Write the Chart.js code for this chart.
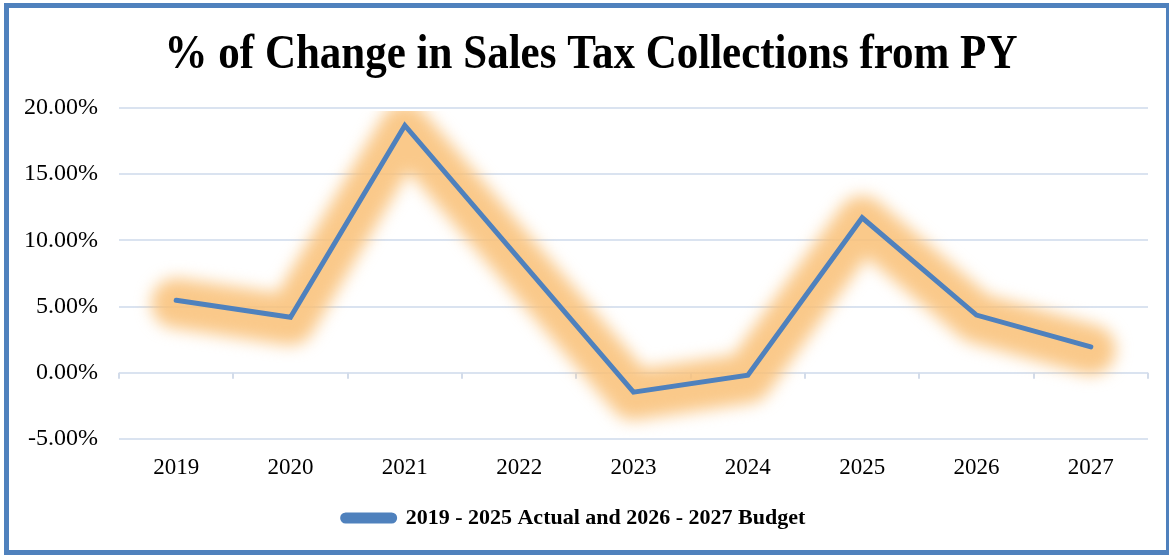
<!DOCTYPE html>
<html>
<head>
<meta charset="utf-8">
<title>Sales Tax Collections</title>
<script src="https://cdn.jsdelivr.net/npm/chart.js@4/dist/chart.umd.min.js"></script>
<style>
  html, body { margin: 0; padding: 0; background: #fff; }
  #wrap { position: relative; width: 1169px; height: 555px; overflow: hidden; }
  #frame {
    position: absolute; left: 4px; top: 3px; width: 1167px; height: 552px;
    box-sizing: border-box; border: 5px solid #4f81bd; pointer-events: none;
  }
  canvas { position: absolute; left: 0; top: 0; }
</style>
</head>
<body>
<div id="wrap">
  <canvas id="salesTax" width="1169" height="555"></canvas>
  <div id="frame"></div>
</div>
<script>
const years = ["2019", "2020", "2021", "2022", "2023", "2024", "2025", "2026", "2027"];
const pctChange = [5.48, 4.2, 18.68, 8.6, -1.46, -0.18, 11.71, 4.36, 1.96];
const seriesName = "2019 - 2025 Actual and 2026 - 2027 Budget";
const chartTitle = "% of Change in Sales Tax Collections from PY";
const yTicks = { min: -5, max: 20, step: 5 };

const serif = "'Liberation Serif', 'Times New Roman', serif";
Chart.defaults.font.family = serif;
Chart.defaults.color = "#000";

// soft orange halo behind the line
const glowPlugin = {
  id: "glow",
  beforeDatasetDraw(chart, args) {
    if (args.index !== 0) return;
    const ctx = chart.ctx;
    ctx.save();
    ctx.filter = "blur(8px)";
    ctx.translate(0, 3);
  },
  afterDatasetDraw(chart, args) {
    if (args.index !== 0) return;
    chart.ctx.restore();
  }
};

// small tick marks along the zero line between categories
const zeroTicks = {
  id: "zeroTicks",
  beforeDatasetsDraw(chart) {
    const { ctx, scales: { x, y } } = chart;
    const y0 = y.getPixelForValue(0);
    ctx.save();
    ctx.strokeStyle = "#d3dcea";
    ctx.lineWidth = 2;
    ctx.beginPath();
    for (let i = 0; i <= years.length; i++) {
      const px = Math.round(x.getPixelForValue(i - 0.5));
      ctx.moveTo(px, y0);
      ctx.lineTo(px, y0 + 6);
    }
    ctx.stroke();
    ctx.restore();
  }
};

// heading, a little taller than the stock serif
const headingPlugin = {
  id: "heading",
  afterDraw(chart) {
    const ctx = chart.ctx;
    ctx.save();
    ctx.font = "bold 43px " + serif;
    ctx.fillStyle = "#000";
    ctx.textAlign = "center";
    ctx.textBaseline = "alphabetic";
    ctx.translate(591, 68);
    ctx.scale(1, 1.12);
    ctx.fillText(chartTitle, 0, 0);
    ctx.restore();
  }
};

new Chart(document.getElementById("salesTax"), {
  type: "line",
  data: {
    labels: years,
    datasets: [
      {
        label: "glow",
        data: pctChange,
        order: 2,
        borderColor: "rgba(249, 192, 118, 0.85)",
        borderWidth: 50,
        borderJoinStyle: "round",
        borderCapStyle: "round",
        pointRadius: 0,
        tension: 0,
        clip: { left: 30, right: 30, top: 0, bottom: 30 }
      },
      {
        label: seriesName,
        data: pctChange,
        order: 1,
        borderColor: "#4f81bd",
        backgroundColor: "#4f81bd",
        borderWidth: 5,
        borderJoinStyle: "miter",
        borderCapStyle: "round",
        pointRadius: 0,
        tension: 0
      }
    ]
  },
  options: {
    responsive: false,
    animation: false,
    layout: { padding: { left: 0, right: 21, top: 108, bottom: 16 } },
    plugins: {
      title: { display: false },
      legend: {
        position: "bottom",
        labels: {
          filter: (item) => item.datasetIndex === 1,
          boxWidth: 52,
          boxHeight: 6,
          useBorderRadius: true,
          borderRadius: 3,
          padding: 10,
          font: { size: 22, weight: "bold", family: serif },
          color: "#000"
        }
      },
      tooltip: { enabled: false }
    },
    scales: {
      x: {
        offset: true,
        grid: { display: false, drawTicks: false },
        border: { display: false },
        ticks: { padding: 15, font: { size: 23 }, color: "#000", maxRotation: 0 },
        afterFit(scale) { scale.height = 58; }
      },
      y: {
        min: yTicks.min,
        max: yTicks.max,
        grid: { color: "#dae3f0", lineWidth: 2, drawTicks: false },
        border: { display: false },
        ticks: {
          stepSize: yTicks.step,
          padding: 21,
          font: { size: 24 },
          color: "#000",
          callback: (v) => v.toFixed(2) + "%"
        },
        afterFit(scale) { scale.width = 119; }
      }
    }
  },
  plugins: [glowPlugin, zeroTicks, headingPlugin]
});
</script>
</body>
</html>
